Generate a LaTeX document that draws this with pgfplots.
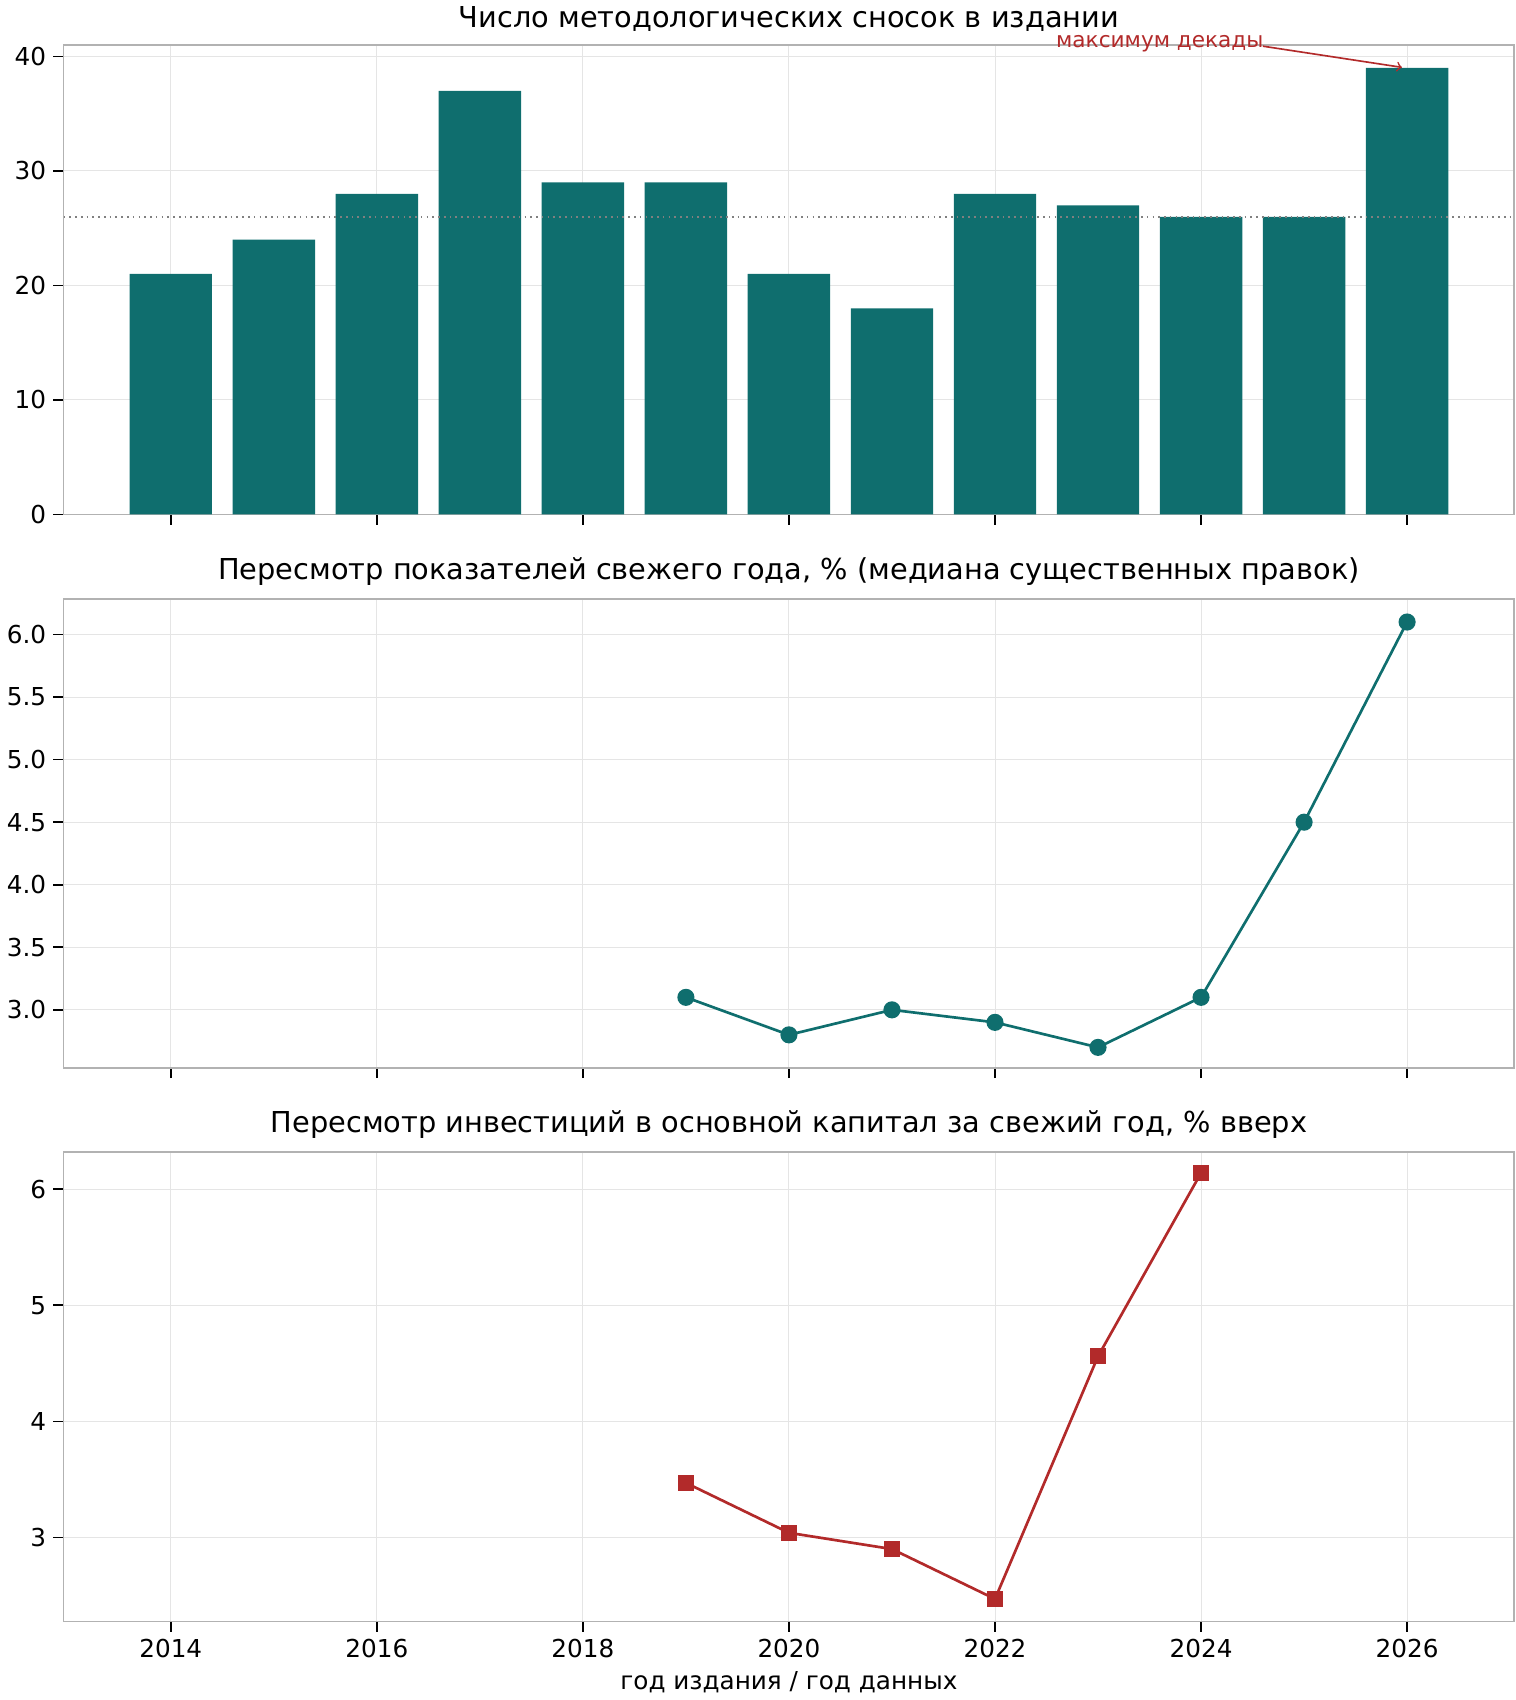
\documentclass[border=0pt]{standalone}
\usepackage{pgfplots}
\pgfplotsset{compat=1.18}
\usepackage{fontspec}
\setmainfont{DejaVu Sans}
\definecolor{teal}{HTML}{0F6E6E}
\definecolor{dred}{HTML}{B22A2A}
\pgfplotsset{
  common/.style={
    width=705pt, height=228pt, scale only axis,
    xmin=2012.96, xmax=2027.04,
    xtick={2014,2016,...,2026},
    grid=major, major grid style={gray!20, line width=0.5pt},
    axis line style={gray!60, line width=0.8pt},
    tick style={black, line width=0.8pt},
    tick align=outside, xtick pos=bottom, ytick pos=left,
    major tick length=5pt,
    ticklabel style={font=\fontsize{12}{14}\selectfont},
    /pgf/number format/assume math mode=true,
    /pgf/number format/1000 sep={},
    title style={font=\fontsize{14}{16}\selectfont, yshift=-3pt},
  }
}
\begin{document}
\begin{tikzpicture}
\begin{axis}[common, at={(0,0)}, ymin=0, ymax=40.98, ytick={0,10,20,30,40},
  xticklabels={}, title={Число методологических сносок в издании}, clip=false]
\addplot[ybar, bar width=0.8, fill=teal, draw=none] coordinates {
(2014,21)(2015,24)(2016,28)(2017,37)(2018,29)(2019,29)(2020,21)(2021,18)(2022,28)(2023,27)(2024,26)(2025,26)(2026,39)};
\addplot[gray, dotted, line width=0.8pt, no marks] coordinates {(2012.96,26)(2027.04,26)};
\node[dred, font=\fontsize{10.5}{12}\selectfont] at (axis cs:2023.6,41.1) {максимум декады};
\draw[->, dred, line width=0.8pt] (axis cs:2024.6,40.9) -- (axis cs:2025.95,39.05);
\end{axis}
\begin{axis}[common, at={(0,-269pt)}, ymin=2.536, ymax=6.286,
  ytick={3.0,3.5,...,6.0}, yticklabel style={/pgf/number format/fixed, /pgf/number format/fixed zerofill, /pgf/number format/precision=1},
  xticklabels={}, title={Пересмотр показателей свежего года, \% (медиана существенных правок)}]
\addplot[teal, line width=1.3pt, mark=*, mark size=3.5pt] coordinates {
(2019,3.1)(2020,2.8)(2021,3.0)(2022,2.9)(2023,2.7)(2024,3.1)(2025,4.5)(2026,6.1)};
\end{axis}
\begin{axis}[common, at={(0,-538pt)}, ymin=2.277, ymax=6.318, ytick={3,4,5,6},
  title={Пересмотр инвестиций в основной капитал за свежий год, \% вверх},
  xlabel={год издания / год данных}, xlabel style={font=\fontsize{12}{14}\selectfont}]
\addplot[dred, line width=1.3pt, mark=square*, mark size=3.2pt] coordinates {
(2019,3.47)(2020,3.04)(2021,2.90)(2022,2.47)(2023,4.56)(2024,6.14)};
\end{axis}
\end{tikzpicture}
\end{document}
